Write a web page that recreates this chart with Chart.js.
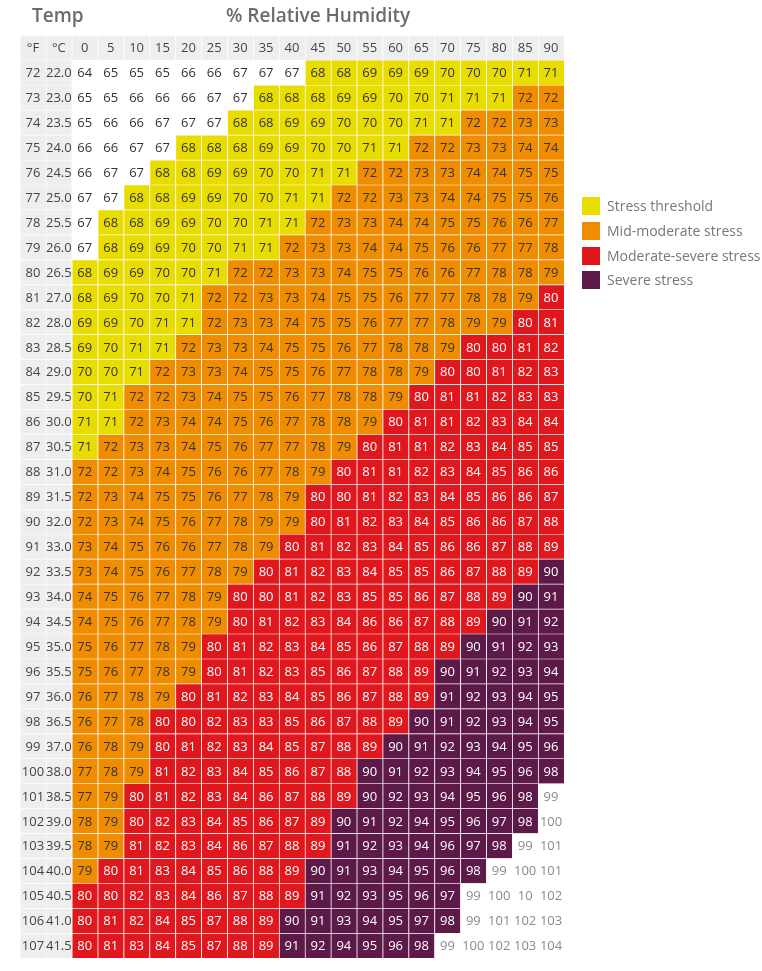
<!DOCTYPE html>
<html>
<head>
<meta charset="utf-8">
<script src="https://cdn.jsdelivr.net/npm/chart.js@4"></script>
<style>
  body { margin: 0; background: #fff; font-family: "Open Sans", sans-serif; }
  #wrap { position: relative; width: 762px; height: 971px; }
  .title { position: absolute; top: 2px; font-size: 19px; color: #6b6b6b; font-weight: 600; }
  .leg { position: absolute; left: 582px; font-size: 14px; color: #777; }
  .leg span { display: inline-block; width: 18px; height: 18px; vertical-align: -4px; margin-right: 7px; }
</style>
</head>
<body>
<div id="wrap">
  <canvas id="graph" width="762" height="971"></canvas>
  <div class="title" style="left:32px">Temp</div>
  <div class="title" style="left:226px">% Relative Humidity</div>
  <div class="leg" style="top:196px"><span style="background:#e9dd00"></span>Stress threshold</div>
  <div class="leg" style="top:221px"><span style="background:#f08c00"></span>Mid-moderate stress</div>
  <div class="leg" style="top:246px"><span style="background:#e1171e"></span>Moderate-severe stress</div>
  <div class="leg" style="top:270px"><span style="background:#5d1947"></span>Severe stress</div>
</div>
<script>
var humidity = [0, 5, 10, 15, 20, 25, 30, 35, 40, 45, 50, 55, 60, 65, 70, 75, 80, 85, 90]
var tempF = [72, 73, 74, 75, 76, 77, 78, 79, 80, 81, 82, 83, 84, 85, 86, 87, 88, 89, 90, 91, 92, 93, 94, 95, 96, 97, 98, 99, 100, 101, 102, 103, 104, 105, 106, 107]
var tempC = [22.0, 23.0, 23.5, 24.0, 24.5, 25.0, 25.5, 26.0, 26.5, 27.0, 28.0, 28.5, 29.0, 29.5, 30.0, 30.5, 31.0, 31.5, 32.0, 33.0, 33.5, 34.0, 34.5, 35.0, 35.5, 36.0, 36.5, 37.0, 38.0, 38.5, 39.0, 39.5, 40.0, 40.5, 41.0, 41.5]
var thi = [
  [64, 65, 65, 65, 66, 66, 67, 67, 67, 68, 68, 69, 69, 69, 70, 70, 70, 71, 71],
  [65, 65, 66, 66, 66, 67, 67, 68, 68, 68, 69, 69, 70, 70, 71, 71, 71, 72, 72],
  [65, 66, 66, 67, 67, 67, 68, 68, 69, 69, 70, 70, 70, 71, 71, 72, 72, 73, 73],
  [66, 66, 67, 67, 68, 68, 68, 69, 69, 70, 70, 71, 71, 72, 72, 73, 73, 74, 74],
  [66, 67, 67, 68, 68, 69, 69, 70, 70, 71, 71, 72, 72, 73, 73, 74, 74, 75, 75],
  [67, 67, 68, 68, 69, 69, 70, 70, 71, 71, 72, 72, 73, 73, 74, 74, 75, 75, 76],
  [67, 68, 68, 69, 69, 70, 70, 71, 71, 72, 73, 73, 74, 74, 75, 75, 76, 76, 77],
  [67, 68, 69, 69, 70, 70, 71, 71, 72, 73, 73, 74, 74, 75, 76, 76, 77, 77, 78],
  [68, 69, 69, 70, 70, 71, 72, 72, 73, 73, 74, 75, 75, 76, 76, 77, 78, 78, 79],
  [68, 69, 70, 70, 71, 72, 72, 73, 73, 74, 75, 75, 76, 77, 77, 78, 78, 79, 80],
  [69, 69, 70, 71, 71, 72, 73, 73, 74, 75, 75, 76, 77, 77, 78, 79, 79, 80, 81],
  [69, 70, 71, 71, 72, 73, 73, 74, 75, 75, 76, 77, 78, 78, 79, 80, 80, 81, 82],
  [70, 70, 71, 72, 73, 73, 74, 75, 75, 76, 77, 78, 78, 79, 80, 80, 81, 82, 83],
  [70, 71, 72, 72, 73, 74, 75, 75, 76, 77, 78, 78, 79, 80, 81, 81, 82, 83, 83],
  [71, 71, 72, 73, 74, 74, 75, 76, 77, 78, 78, 79, 80, 81, 81, 82, 83, 84, 84],
  [71, 72, 73, 73, 74, 75, 76, 77, 77, 78, 79, 80, 81, 81, 82, 83, 84, 85, 85],
  [72, 72, 73, 74, 75, 76, 76, 77, 78, 79, 80, 81, 81, 82, 83, 84, 85, 86, 86],
  [72, 73, 74, 75, 75, 76, 77, 78, 79, 80, 80, 81, 82, 83, 84, 85, 86, 86, 87],
  [72, 73, 74, 75, 76, 77, 78, 79, 79, 80, 81, 82, 83, 84, 85, 86, 86, 87, 88],
  [73, 74, 75, 76, 76, 77, 78, 79, 80, 81, 82, 83, 84, 85, 86, 86, 87, 88, 89],
  [73, 74, 75, 76, 77, 78, 79, 80, 81, 82, 83, 84, 85, 85, 86, 87, 88, 89, 90],
  [74, 75, 76, 77, 78, 79, 80, 80, 81, 82, 83, 85, 85, 86, 87, 88, 89, 90, 91],
  [74, 75, 76, 77, 78, 79, 80, 81, 82, 83, 84, 86, 86, 87, 88, 89, 90, 91, 92],
  [75, 76, 77, 78, 79, 80, 81, 82, 83, 84, 85, 86, 87, 88, 89, 90, 91, 92, 93],
  [75, 76, 77, 78, 79, 80, 81, 82, 83, 85, 86, 87, 88, 89, 90, 91, 92, 93, 94],
  [76, 77, 78, 79, 80, 81, 82, 83, 84, 85, 86, 87, 88, 89, 91, 92, 93, 94, 95],
  [76, 77, 78, 80, 80, 82, 83, 83, 85, 86, 87, 88, 89, 90, 91, 92, 93, 94, 95],
  [76, 78, 79, 80, 81, 82, 83, 84, 85, 87, 88, 89, 90, 91, 92, 93, 94, 95, 96],
  [77, 78, 79, 81, 82, 83, 84, 85, 86, 87, 88, 90, 91, 92, 93, 94, 95, 96, 98],
  [77, 79, 80, 81, 82, 83, 84, 86, 87, 88, 89, 90, 92, 93, 94, 95, 96, 98, 99],
  [78, 79, 80, 82, 83, 84, 85, 86, 87, 89, 90, 91, 92, 94, 95, 96, 97, 98, 100],
  [78, 79, 81, 82, 83, 84, 86, 87, 88, 89, 91, 92, 93, 94, 96, 97, 98, 99, 101],
  [79, 80, 81, 83, 84, 85, 86, 88, 89, 90, 91, 93, 94, 95, 96, 98, 99, 100, 101],
  [80, 80, 82, 83, 84, 86, 87, 88, 89, 91, 92, 93, 95, 96, 97, 99, 100, 10, 102],
  [80, 81, 82, 84, 85, 87, 88, 89, 90, 91, 93, 94, 95, 97, 98, 99, 101, 102, 103],
  [80, 81, 83, 84, 85, 87, 88, 89, 91, 92, 94, 95, 96, 98, 99, 100, 102, 103, 104]
]

var headGray = "#efeeee"
function cellColor(v) {
  if (v < 68) return "#ffffff"
  if (v <= 71) return "#e9dd00"
  if (v <= 79) return "#f08c00"
  if (v <= 89) return "#e1171e"
  if (v <= 98) return "#5d1947"
  return "#ffffff"
}
function textColor(v) {
  if (v < 20 || v >= 99) return "#8a8a8a"
  if (v >= 80) return "#ffffff"
  return "#333333"
}

var columns = ["°F", "°C"].concat(humidity.map(String))

// header row (index -1) and one row per temperature
var texts = []
var datasets = []
var headTexts = columns.slice()
texts.push(headTexts.map(t => ({ t: t, c: "#444" })))
datasets.push({
  data: columns.map(() => [-1, 0]),
  backgroundColor: columns.map(() => headGray)
})
tempF.forEach((f, r) => {
  var row = [{ t: String(f), c: "#444" }, { t: tempC[r].toFixed(1), c: "#444" }]
  var bg = [headGray, headGray]
  thi[r].forEach(v => {
    row.push({ t: String(v), c: textColor(v) })
    bg.push(cellColor(v))
  })
  texts.push(row)
  datasets.push({ data: columns.map(() => [r, r + 1]), backgroundColor: bg })
})
datasets.forEach(d => {
  d.grouped = false
  d.barPercentage = 1
  d.categoryPercentage = 1
  d.borderWidth = { top: 1, bottom: 0, left: 1, right: 0 }
  d.borderColor = "rgba(255,255,255,0.65)"
  d.borderSkipped = false
})

var cellText = {
  id: "cellText",
  afterDatasetsDraw(chart) {
    var ctx = chart.ctx
    ctx.save()
    ctx.textAlign = "center"
    ctx.textBaseline = "middle"
    ctx.font = "13px 'Open Sans'"
    chart.data.datasets.forEach((d, i) => {
      chart.getDatasetMeta(i).data.forEach((el, j) => {
        var cell = texts[i][j]
        ctx.fillStyle = cell.c
        ctx.fillText(cell.t, el.x, (el.y + el.base) / 2 + 1)
      })
    })
    ctx.restore()
  }
}

var graph = new Chart(document.getElementById("graph"), {
  type: "bar",
  data: { labels: columns, datasets: datasets },
  options: {
    responsive: false,
    animation: false,
    layout: { padding: { left: 20, right: 198, top: 35, bottom: 13 } },
    plugins: { legend: { display: false }, tooltip: { enabled: false } },
    scales: {
      x: { display: false, offset: true },
      y: { display: false, min: -1, max: 36, reverse: true }
    }
  },
  plugins: [cellText]
})
</script>
</body>
</html>
